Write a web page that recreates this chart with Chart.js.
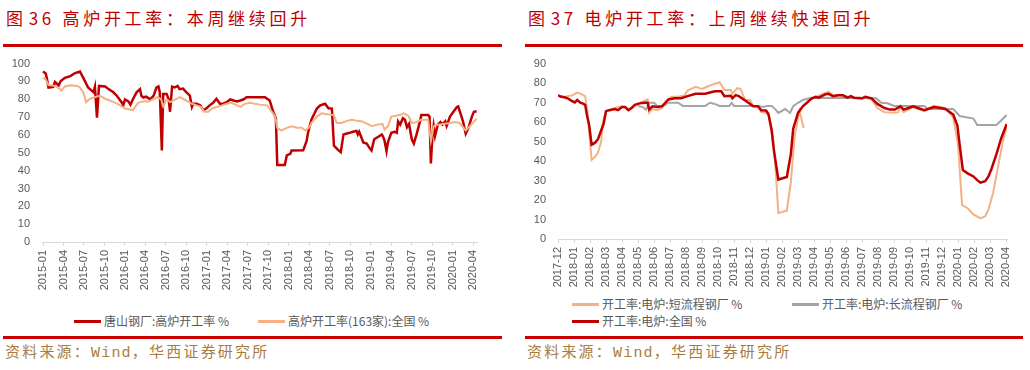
<!DOCTYPE html>
<html>
<head>
<meta charset="utf-8">
<script src="https://cdn.jsdelivr.net/npm/chart.js@4.4.0/dist/chart.umd.min.js"></script>
<style>
    body {
        margin: 0;
        width: 1030px;
        height: 370px;
        background: #fff;
        position: relative;
        overflow: hidden;
        font-family: "Noto Sans CJK SC", sans-serif;
    }
    .title {
        position: absolute;
        top: 8px;
        font-size: 17px;
        line-height: 20px;
        color: #c00000;
        letter-spacing: 3.7px;
        white-space: nowrap;
    }
    .title b { font-weight: normal; margin-left: 2px; }
    .rule {
        position: absolute;
        height: 3px;
        background: #cc0000;
    }
    .source {
        position: absolute;
        top: 342px;
        font-size: 15px;
        line-height: 18px;
        color: #a97c3c;
        letter-spacing: 2.2px;
        white-space: nowrap;
    }
    .mono { font-family: "Liberation Mono", monospace; letter-spacing: 1.2px; }
    canvas { position: absolute; }
    .legend {
        position: absolute;
        font-size: 12px;
        line-height: 16px;
        color: #595959;
        white-space: nowrap;
    }
    .legend i {
        position: absolute;
        left: 0;
        top: 7px;
        width: 27px;
        height: 3px;
    }
    .legend span { position: absolute; left: 30px; top: 0; }
</style>
</head>
<body>

<div class="title" style="left:6px">图<b>36</b> 高炉开工率：本周继续回升</div>
<div class="rule" style="left:3px; top:44px; width:499px"></div>
<canvas id="bfChart" width="510" height="250" style="left:0; top:45px"></canvas>
<div class="rule" style="left:3px; top:336px; width:499px"></div>
<div class="source" style="left:5px">资料来源：<span class="mono">Wind</span>，华西证券研究所</div>

<div class="title" style="left:528px">图<b>37</b> 电炉开工率：上周继续快速回升</div>
<div class="rule" style="left:525px; top:44px; width:498px"></div>
<canvas id="eafChart" width="515" height="250" style="left:515px; top:45px"></canvas>
<div class="rule" style="left:525px; top:336px; width:498px"></div>
<div class="source" style="left:527px">资料来源：<span class="mono">Wind</span>，华西证券研究所</div>

<script>
// ---- 图36: x = months since 2015-01 ----
const bfTickLabels = ['2015-01', '2015-04', '2015-07', '2015-10', '2016-01', '2016-04', '2016-07', '2016-10',
    '2017-01', '2017-04', '2017-07', '2017-10', '2018-01', '2018-04', '2018-07', '2018-10',
    '2019-01', '2019-04', '2019-07', '2019-10', '2020-01', '2020-04'];

const tangshanName = '唐山钢厂:高炉开工率 %';
const tangshanMonths = [0, 0.4, 0.6, 0.8, 1.5, 1.75, 2.3, 2.6, 3.2, 4, 4.7, 5.4, 5.9, 6.6, 7.4, 7.6, 7.9, 8.2, 9.1, 9.6,
    10.3, 10.8, 11.5, 11.75, 12, 12.5, 12.8, 13.2, 13.7, 14.2, 14.4, 14.7, 15.1, 15.7, 16.2, 16.6, 16.9, 17.1, 17.4, 17.6,
    18.1, 18.4, 18.6, 18.9, 19.3, 19.7, 20, 20.5, 21, 21.5, 21.8, 22, 22.5, 23, 23.5, 23.9, 24.4, 24.9, 25.4, 25.9,
    26.4, 26.9, 27.4, 27.9, 28.4, 28.9, 29.4, 29.8, 32.5, 33.2, 33.7, 34.1, 34.3, 35.4, 35.7, 36.2, 36.4, 38.1, 38.6, 38.8,
    39.3, 40.1, 40.6, 41.3, 41.8, 42.3, 42.6, 43.2, 43.6, 44, 44.9, 45.4, 45.9, 46.1, 46.3, 46.9, 47.4, 47.9, 48.1, 48.5,
    49.1, 49.6, 49.8, 50, 50.3, 50.5, 51, 51.5, 51.8, 52, 52.3, 52.7, 53, 53.3, 53.6, 54, 54.3, 54.7, 55.2, 55.4,
    56.4, 56.6, 56.8, 57, 57.2, 57.4, 57.8, 58.2, 58.5, 58.9, 59.1, 59.6, 60.1, 60.6, 60.8, 61.5, 61.9, 62.3, 62.8, 63.1, 63.5];
const tangshanRate = [95.6, 94.5, 91, 86.6, 87, 89.7, 87.8, 90.2, 92, 93, 94.7, 95.6, 92, 86.6, 83.9, 87, 69.7, 87.5, 87.2, 85.7,
    83.9, 82, 78.4, 76.6, 79.9, 78.8, 77, 80.3, 83.9, 85.7, 82, 81, 81.5, 80, 82, 86.6, 87.2, 84, 51.3, 83,
    83, 80, 73, 87.1, 86.6, 87.5, 85.7, 86, 83.9, 82, 75.7, 77.5, 77.5, 76.6, 73.9, 74.8, 76.6, 78, 80.3, 77.5,
    77.5, 78.4, 79.9, 79.3, 78.8, 79.3, 80, 81.2, 81.2, 79.3, 73, 69.4, 43.1, 43.1, 48.5, 49.4, 51.3, 51.4, 56.7, 61.2,
    68.5, 74.8, 76.6, 77.5, 75, 74.8, 54, 51.6, 50.4, 60.3, 61.2, 61.8, 62.2, 60.3, 61.8, 55.8, 55.2, 52.2, 51.3, 57.6,
    59, 60.3, 59, 57, 50.9, 55.8, 61.2, 61.8, 61.2, 67.6, 65.8, 69.4, 68.5, 64.4, 66.2, 57.6, 55.2, 60.3, 67.6, 71.2,
    71.2, 70.3, 44, 58.5, 65, 59.4, 65.8, 67.2, 65.8, 67.6, 65, 70.3, 73, 75.7, 76, 67.6, 60.7, 64, 70.3, 73, 73.3];

const nationalBfName = '高炉开工率(163家):全国 %';
const nationalBfMonths = [0, 0.4, 0.8, 1.8, 2.5, 2.7, 3.2, 4, 5, 5.4, 5.9, 6.3, 6.9, 7.6, 8.3, 9.1, 9.8, 10.5, 11.3, 12,
    12.7, 13.2, 13.9, 14.9, 15.4, 16.3, 16.8, 17.3, 17.6, 18.1, 18.6, 19.6, 20, 20.5, 21, 21.8, 22.5, 23.2, 23.6, 24.2,
    24.7, 25.4, 26.2, 26.9, 27.6, 28.4, 28.9, 29.6, 30.3, 31, 31.8, 32.8, 33.5, 34, 34.3, 34.9, 35.7, 36.4, 37.2, 37.9,
    38.4, 39, 39.3, 40.1, 40.8, 41.8, 42.6, 43, 43.7, 44.5, 45.2, 46, 46.7, 47.5, 48.2, 48.9, 49.7, 50, 50.5, 51,
    51.7, 52.5, 52.8, 53.5, 54, 54.7, 55.4, 56.4, 56.8, 57.2, 57.8, 58.6, 59.6, 60.3, 61, 61.9, 62.5, 63.1, 63.5];
const nationalBfRate = [92, 91, 87.9, 87.5, 85.7, 84.8, 87.2, 87.9, 87.5, 86.6, 83.9, 78.4, 80.3, 81.2, 82, 80.3, 79.3, 78.1, 76.6, 74.8,
    74.3, 73.9, 78, 79, 78.6, 80.3, 81.2, 80, 76, 80, 78.4, 80.3, 81.2, 80.3, 79.3, 77.5, 76.6, 75.7, 73, 73,
    74.8, 75.7, 76.6, 77.5, 78, 76.6, 75.7, 77.5, 78, 77.5, 77, 76.6, 73, 70.3, 64, 62.5, 64, 64.9, 64, 64,
    62.5, 64.3, 66.7, 70.3, 72.1, 71.5, 71.2, 66.7, 66.7, 67.9, 68.5, 67.9, 67.6, 66.2, 64.9, 65.8, 66.2, 63, 64.9, 70.3,
    70.8, 71.5, 72.1, 70.8, 66.7, 67.2, 68.5, 68.5, 56.7, 64.9, 65.8, 66.2, 66.7, 67.2, 66.7, 62.5, 64.9, 67.6, 69];

// ---- 图37: x = months since 2017-12 ----
const eafTickLabels = ['2017-12', '2018-01', '2018-02', '2018-03', '2018-04', '2018-05', '2018-06', '2018-07',
    '2018-08', '2018-09', '2018-10', '2018-11', '2018-12', '2019-01', '2019-02', '2019-03', '2019-04', '2019-05',
    '2019-06', '2019-07', '2019-08', '2019-09', '2019-10', '2019-11', '2019-12', '2020-01', '2020-02', '2020-03', '2020-04'];

const shortName = '开工率:电炉:短流程钢厂 %';
const shortMonths = [0, 0.4, 0.9, 1.2, 1.4, 1.6, 1.7, 1.85, 2, 2.1, 2.3, 2.5, 2.7, 2.8, 3, 3.55, 4, 4.4, 4.7, 5,
    5.4, 5.6, 5.7, 5.9, 6.2, 6.5, 6.8, 7.1, 7.5, 7.9, 8.1, 8.6, 9, 9.3, 9.6, 10, 10.1, 10.4, 10.8, 10.9,
    11.2, 11.4, 11.7, 12, 12.2, 12.5, 12.7, 13, 13.2, 13.4, 13.55, 13.77, 14.3, 14.55, 14.8, 15.1, 15.35, 15.6, 15.85, 16.1,
    16.7, 16.9, 17.2, 17.8, 18.1, 19, 19.2, 19.6, 19.96, 20.4, 21.05, 21.25, 21.4, 21.6, 21.9, 22.2, 22.5, 22.9, 23.5, 23.9,
    24.2, 24.7, 25, 25.25, 25.6, 25.96, 26.4, 26.7, 26.9, 27.2, 27.5, 27.8, 28.04];
const shortRate = [73.5, 73, 73.7, 75.1, 74.6, 73.7, 73.3, 64.8, 50, 40.6, 42, 44.4, 50, 59.8, 65.6, 67.2, 68.1, 66.4, 68.1, 69.3,
    70.9, 71.6, 64.8, 66.7, 66.1, 67.2, 70.9, 73, 73, 73.7, 76.2, 78.1, 77, 78.1, 79.1, 80.2, 80.5, 76.5, 76.5, 74.5,
    77.4, 77, 71.3, 71.3, 68.1, 68.1, 65.1, 64.8, 63.1, 55, 42, 13.4, 14.5, 29.1, 53.5, 65.6, 56.9, null, 72.1, 72.9,
    75, 75.5, 73.7, 73.7, 72.9, 71.9, 73, 71.6, 67.2, 65.1, 64.8, 65.1, 68.1, 65.1, 66.4, 67.7, 66.7, 65.6, 68.4, 67.7,
    67.2, 62.3, 48.4, 17.5, 15.8, 12.6, 10.6, 11.7, 15, 24, 37, 50.1, 57.4];

const longName = '开工率:电炉:长流程钢厂 %';
const longMonths = [5, 5.3, 5.5, 5.7, 6, 6.2, 6.6, 6.9, 7.5, 7.8, 9.2, 9.5, 9.8, 10.1, 10.7, 10.85, 11, 12.5, 12.8, 13.1,
    13.35, 13.6, 13.77, 14.2, 14.5, 14.7, 15, 15.3, 15.85, 19.9, 20.2, 20.6, 21, 22.9, 23.1, 24.7, 25.1, 25.96, 26.2, 27.4, 28.04];
const longRate = [68.3, 67.7, 66.4, 69.9, 69.9, 68.3, 68.3, 69.9, 69.9, 68.3, 68.3, 69.9, 69.3, 68.3, 68.3, 69.9, 68.3, 68.3, 67.7, 68.3,
    68.3, 66.4, 64.7, 66.7, 64.7, 68.1, 69.9, 71.3, 72.5, 72.2, 69.9, 69.6, 68.3, 68.3, 66.7, 66.7, 63.1, 61.8, 58.5, 58.5, 63.6];

const eafNationalName = '开工率:电炉:全国 %';
const eafNationalMonths = [0, 0.2, 0.4, 0.6, 0.85, 1.05, 1.2, 1.4, 1.6, 1.7, 1.8, 1.95, 2.1, 2.3, 2.5, 2.7, 2.85, 3, 3.2, 3.55,
    3.75, 4, 4.2, 4.4, 4.6, 4.8, 5.1, 5.4, 5.6, 5.7, 5.9, 6.2, 6.5, 6.9, 7.3, 7.7, 8.1, 8.6, 9.2, 9.8,
    10.2, 10.4, 10.8, 10.9, 11.1, 11.3, 11.9, 12.2, 12.5, 12.7, 13, 13.15, 13.35, 13.5, 13.77, 14.3, 14.55, 14.7, 15, 15.3,
    15.85, 16.1, 16.3, 16.7, 16.9, 17.2, 17.5, 17.8, 18.1, 18.3, 18.5, 19, 19.2, 19.6, 19.96, 20.4, 20.75, 21.05, 21.4, 21.6,
    21.9, 22.2, 22.5, 22.9, 23.3, 23.5, 23.9, 24.2, 24.7, 24.96, 25.1, 25.3, 25.6, 25.96, 26.2, 26.4, 26.7, 26.9, 27.1, 27.4,
    27.7, 28.04];
const eafNationalRate = [73.7, 73, 72.7, 72.2, 70.9, 70.1, 71.3, 69.9, 69.3, 68.8, 63.9, 58.2, 48.4, 49.3, 51.2, 55.8, 59, 65.6, 66.1, 66.7,
    66.1, 67.7, 67.7, 66.1, 67.2, 68.8, 69.6, 69.9, 69.9, 66.4, 68.1, 67.7, 68.1, 71.6, 72.2, 72.2, 73.3, 74.5, 74.5, 75.8,
    75.8, 73.3, 73.5, 72.2, 73.8, 73.3, 69.9, 68.1, 68.1, 66.1, 65.9, 64.1, 55.8, 45, 30.5, 31.8, 43.5, 56.6, 64.7, 68.1,
    72.1, 72.9, 72.5, 74.2, 74.5, 73.3, 73.7, 73.7, 72.5, 73.3, 72.5, 72.2, 73, 72.2, 69.3, 67.2, 66.4, 66.4, 68.1, 66.4,
    67.2, 68.1, 67.2, 66.1, 67.2, 67.7, 67.2, 66.7, 63.9, 58.2, 48.4, 35.4, 33.7, 32.1, 30.2, 28.9, 29.7, 32.1, 36.2, 43.5,
    51.7, 59];

const RED = '#c00000';
const ORANGE = '#f4b183';
const GRAY = '#a5a5a5';

function toPoints(xs, ys) {
    return xs.map((x, i) => ({ x: x, y: ys[i] }));
}

function series(label, xs, ys, color, width, order) {
    return {
        label: label,
        data: toPoints(xs, ys),
        borderColor: color,
        backgroundColor: color,
        borderWidth: width,
        pointRadius: 0,
        tension: 0,
        spanGaps: false,
        order: order
    };
}

function createLineChart(id, datasets, cfg) {
    const tickFont = { family: '"Liberation Sans", Arial, sans-serif', size: 11 };
    return new Chart(document.getElementById(id), {
        type: 'line',
        data: { datasets: datasets },
        options: {
            responsive: false,
            animation: false,
            layout: { padding: { top: cfg.top, right: cfg.right, left: 0, bottom: 0 } },
            plugins: { legend: { display: false }, tooltip: { enabled: false } },
            scales: {
                x: {
                    type: 'linear',
                    min: cfg.xMin,
                    max: cfg.xMax,
                    afterBuildTicks: scale => {
                        scale.ticks = cfg.labels.map((_, i) => ({ value: i * cfg.step }));
                    },
                    afterFit: scale => { scale.height = cfg.xHeight; },
                    ticks: {
                        autoSkip: false,
                        minRotation: 90,
                        maxRotation: 90,
                        padding: 4,
                        color: '#595959',
                        font: tickFont,
                        callback: (value, index) => cfg.labels[index]
                    },
                    grid: { drawOnChartArea: false, drawTicks: true, tickLength: 4, color: '#d9d9d9' },
                    border: { color: '#d9d9d9' }
                },
                y: {
                    min: 0,
                    max: cfg.yMax,
                    afterFit: scale => { scale.width = cfg.yWidth; },
                    ticks: { stepSize: 10, padding: 12, color: '#595959', font: tickFont },
                    grid: { display: false, drawTicks: false },
                    border: { display: false }
                }
            }
        }
    });
}

function addLegend(x, y, color, text) {
    const el = document.createElement('div');
    el.className = 'legend';
    el.style.left = x + 'px';
    el.style.top = (y - 8) + 'px';
    el.innerHTML = '<i style="background:' + color + '"></i><span>' + text + '</span>';
    document.body.appendChild(el);
}

createLineChart('bfChart', [
    series(tangshanName, tangshanMonths, tangshanRate, RED, 2.5, 2),
    series(nationalBfName, nationalBfMonths, nationalBfRate, ORANGE, 2, 1)
], { labels: bfTickLabels, step: 3, xMin: -0.15, xMax: 63.55, yMax: 100, top: 12, right: 33, xHeight: 53, yWidth: 42 });

createLineChart('eafChart', [
    series(shortName, shortMonths, shortRate, ORANGE, 2, 3),
    series(longName, longMonths, longRate, GRAY, 2, 2),
    series(eafNationalName, eafNationalMonths, eafNationalRate, RED, 2.5, 1)
], { labels: eafTickLabels, step: 1, xMin: 0, xMax: 28.06, yMax: 90, top: 10, right: 23, xHeight: 56, yWidth: 43 });

addLegend(74, 321, RED, tangshanName);
addLegend(258, 321, ORANGE, nationalBfName);
addLegend(572, 304, ORANGE, shortName);
addLegend(792, 304, GRAY, longName);
addLegend(572, 321, RED, eafNationalName);
</script>
</body>
</html>
